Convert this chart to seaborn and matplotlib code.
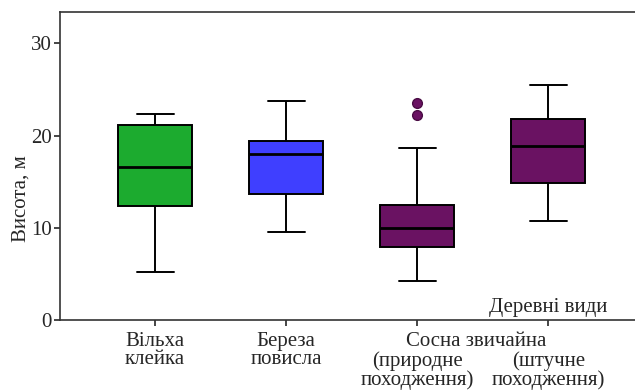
import seaborn as sns
import matplotlib.pyplot as plt
import matplotlib.transforms as mtransforms
import pandas as pd

# box statistics (height, m)
species = ["Вільха\nклейка", "Береза\nповисла",
           "(природне\nпоходження)", "(штучне\nпоходження)"]
whis_lo = [5.2, 9.5, 4.2, 10.7]
q1 = [12.35, 13.65, 7.9, 14.85]
medians = [16.6, 18.0, 10.0, 18.85]
q3 = [21.1, 19.4, 12.45, 21.8]
whis_hi = [22.3, 23.8, 18.6, 25.5]
outliers = [[], [], [23.5, 22.2], []]
colors = ["#1cab2f", "#3f3fff", "#6a1262", "#6a1262"]

# rebuild samples whose quartiles equal the read statistics
rows = []
for i, sp in enumerate(species):
    vals = [whis_lo[i]] + [q1[i]] * 3 + [medians[i]] * 3 + [q3[i]] * 3 + [whis_hi[i]] + outliers[i]
    rows += [(sp, v) for v in vals]
df = pd.DataFrame(rows, columns=["species", "height"])

sns.set_style("ticks")
plt.rcParams["font.family"] = ["Liberation Serif", "DejaVu Serif"]
fs = 15

fig = plt.figure(figsize=(6.35, 3.91), dpi=100)
ax = fig.add_axes([0.0945, 0.1816, 0.9055, 0.7877])

sns.boxplot(data=df, x="species", y="height", hue="species", palette=colors,
            order=species, hue_order=species, legend=False, saturation=1,
            width=0.565, linecolor="black", linewidth=1.4, ax=ax,
            medianprops=dict(linewidth=2),
            flierprops=dict(marker="o", markersize=7, markerfacecolor="#6a1262",
                            markeredgecolor="#4a0c44"))

ax.set_xlim(-0.725, 3.66)
ax.set_ylim(0, 33.4)
ax.set_yticks([0, 10, 20, 30])
ax.set_xlabel("")
ax.set_ylabel("Висота, м", fontsize=fs)
ax.yaxis.set_label_coords(-0.052, 0.393)
ax.tick_params(axis="y", labelsize=fs, length=4, width=1.2, pad=2)
ax.tick_params(axis="x", labelsize=fs, length=4, width=1.2, pad=4.5)

# pine labels sit one line lower, under the shared "Сосна звичайна" line
line_shift = mtransforms.ScaledTranslation(0, -fs * 0.95 / 72, fig.dpi_scale_trans)
for i, lab in enumerate(ax.get_xticklabels()):
    lab.set_linespacing(0.95)
    if i >= 2:
        lab.set_transform(lab.get_transform() + line_shift)

for side in ["left", "bottom", "top"]:
    ax.spines[side].set_color("#333333")
    ax.spines[side].set_linewidth(1.2)
ax.spines["right"].set_visible(False)

trans = mtransforms.blended_transform_factory(ax.transData, ax.transAxes)
ax.annotate("Сосна звичайна", xy=(2.45, 0), xycoords=trans,
            xytext=(0, -8.5), textcoords="offset points",
            ha="center", va="top", fontsize=fs)
ax.text(3.0, 1.4, "Деревні види", ha="center", va="center", fontsize=fs)

fig.savefig("out.png", dpi=100)
